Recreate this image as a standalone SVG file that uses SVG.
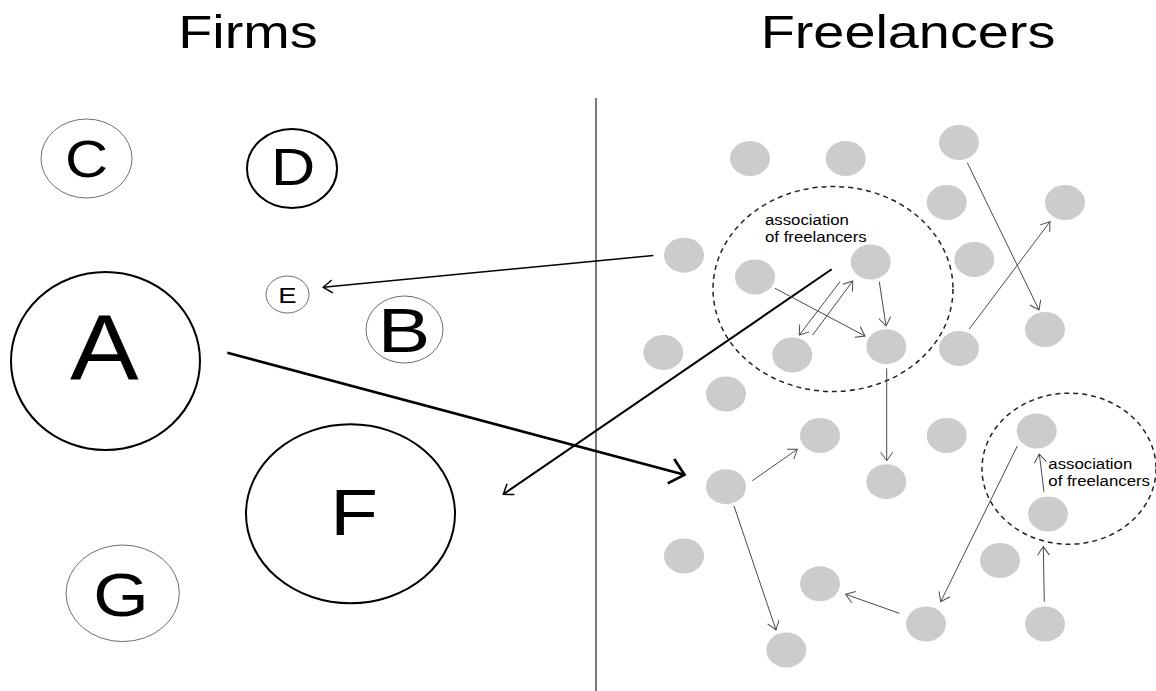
<svg xmlns="http://www.w3.org/2000/svg" width="1156" height="691" viewBox="0 0 1156 691">
  <style>
    text { font-family: "Liberation Sans", Arial, Helvetica, sans-serif; fill: #000; }
    .title { font-size: 46.5px; text-anchor: middle; }
    .firm-strong { fill: #fff; stroke: #000; stroke-width: 2; }
    .firm-light { fill: #fff; stroke: #6e6e6e; stroke-width: 1; }
    .letter { text-anchor: middle; }
    .freelancer { fill: #cccccc; stroke: none; }
    .assoc { fill: none; stroke: #222; stroke-width: 1.5; stroke-dasharray: 5 4; }
    .assoc-label { font-size: 15px; }
    .divider { stroke: #333; stroke-width: 1.3; }
    .link { fill: none; stroke: #4a4a4a; stroke-width: 1; marker-end: url(#head-thin); }
    .link-dark { fill: none; stroke: #000; stroke-width: 1.5; marker-end: url(#head-dark); }
    .link-bold { fill: none; stroke: #000; stroke-width: 2.7; marker-end: url(#head-bold); }
    .link-mid { fill: none; stroke: #000; stroke-width: 2; marker-end: url(#head-dark); }
  </style>
  <defs>
    <marker id="head-thin" markerUnits="userSpaceOnUse" markerWidth="20" markerHeight="20" refX="0" refY="0" orient="auto" overflow="visible">
      <path d="M-8.5,-6 L0,0 L-8.5,6" fill="none" stroke="#4a4a4a" stroke-width="1"/>
    </marker>
    <marker id="head-dark" markerUnits="userSpaceOnUse" markerWidth="20" markerHeight="20" refX="0" refY="0" orient="auto" overflow="visible">
      <path d="M-9,-6.5 L0,0 L-9,6.5" fill="none" stroke="#000" stroke-width="1.5"/>
    </marker>
    <marker id="head-bold" markerUnits="userSpaceOnUse" markerWidth="40" markerHeight="40" refX="0" refY="0" orient="auto" overflow="visible">
      <path d="M-14,-12.6 L0,0 L-14,12.6" fill="none" stroke="#000" stroke-width="2.7"/>
    </marker>
  </defs>

  <rect width="1156" height="691" fill="#fff"/>

  <!-- column headings -->
  <text class="title" transform="translate(248,48.3) scale(1.2,1)">Firms</text>
  <text class="title" transform="translate(908,48.3) scale(1.2,1)">Freelancers</text>

  <!-- divider between firms and freelancers -->
  <line class="divider" x1="596" y1="98" x2="596" y2="691"/>

  <!-- firms -->
  <g id="firm-C">
    <ellipse class="firm-light" cx="86.5" cy="158.5" rx="45.5" ry="39.5"/>
    <text class="letter" font-size="51" transform="translate(86.5,176.5) scale(1.17,1)">C</text>
  </g>
  <g id="firm-D">
    <ellipse class="firm-strong" cx="292" cy="168.5" rx="45" ry="39.5"/>
    <text class="letter" font-size="51" transform="translate(293,185) scale(1.2,1)">D</text>
  </g>
  <g id="firm-E">
    <ellipse class="firm-light" cx="287.5" cy="294.5" rx="21.5" ry="18.5"/>
    <text class="letter" font-size="22" transform="translate(287.5,302.7) scale(1.25,1)">E</text>
  </g>
  <g id="firm-B">
    <ellipse class="firm-light" cx="404.5" cy="329.5" rx="38.5" ry="33.5"/>
    <text class="letter" font-size="63" transform="translate(404,351.7) scale(1.25,1)">B</text>
  </g>
  <g id="firm-A">
    <ellipse class="firm-strong" cx="105.5" cy="361" rx="94.5" ry="89"/>
    <text class="letter" font-size="92" transform="translate(104.3,380) scale(1.12,1)">A</text>
  </g>
  <g id="firm-F">
    <ellipse class="firm-strong" cx="350.5" cy="513.8" rx="104.5" ry="89.5"/>
    <text class="letter" font-size="65" transform="translate(354,535) scale(1.2,1)">F</text>
  </g>
  <g id="firm-G">
    <ellipse class="firm-light" cx="122.7" cy="593.3" rx="56.7" ry="48.3"/>
    <text class="letter" font-size="61" transform="translate(121,615.5) scale(1.17,1)">G</text>
  </g>

  <!-- associations of freelancers -->
  <g id="association-1">
    <ellipse class="assoc" cx="833" cy="289" rx="120" ry="102.5"/>
    <text class="assoc-label" transform="translate(765,225) scale(1.12,1)">association</text>
    <text class="assoc-label" transform="translate(765,242.3) scale(1.12,1)">of freelancers</text>
  </g>
  <g id="association-2">
    <ellipse class="assoc" cx="1069" cy="468.7" rx="87" ry="75.5"/>
    <text class="assoc-label" transform="translate(1048.3,469) scale(1.12,1)">association</text>
    <text class="assoc-label" transform="translate(1048.3,486) scale(1.12,1)">of freelancers</text>
  </g>

  <!-- freelancers -->
  <g id="freelancers">
    <ellipse id="fl-01" class="freelancer" cx="750" cy="158.5" rx="20" ry="17.5"/>
    <ellipse id="fl-02" class="freelancer" cx="845.7" cy="158.5" rx="20" ry="17.5"/>
    <ellipse id="fl-03" class="freelancer" cx="959" cy="142.5" rx="20" ry="17.5"/>
    <ellipse id="fl-04" class="freelancer" cx="946.7" cy="202.5" rx="20" ry="17.5"/>
    <ellipse id="fl-05" class="freelancer" cx="1065" cy="202.5" rx="20" ry="17.5"/>
    <ellipse id="fl-06" class="freelancer" cx="684" cy="255.2" rx="20" ry="17.5"/>
    <ellipse id="fl-07" class="freelancer" cx="755" cy="277" rx="20" ry="17.5"/>
    <ellipse id="fl-08" class="freelancer" cx="870.7" cy="262" rx="20" ry="17.5"/>
    <ellipse id="fl-09" class="freelancer" cx="974.3" cy="259.5" rx="20" ry="17.5"/>
    <ellipse id="fl-10" class="freelancer" cx="1045" cy="329.5" rx="20" ry="17.5"/>
    <ellipse id="fl-11" class="freelancer" cx="663.3" cy="352.5" rx="20" ry="17.5"/>
    <ellipse id="fl-12" class="freelancer" cx="792.3" cy="355" rx="20" ry="17.5"/>
    <ellipse id="fl-13" class="freelancer" cx="886.3" cy="346.7" rx="20" ry="17.5"/>
    <ellipse id="fl-14" class="freelancer" cx="959" cy="348.5" rx="20" ry="17.5"/>
    <ellipse id="fl-15" class="freelancer" cx="726" cy="394" rx="20" ry="17.5"/>
    <ellipse id="fl-16" class="freelancer" cx="820" cy="435.5" rx="20" ry="17.5"/>
    <ellipse id="fl-17" class="freelancer" cx="946.7" cy="435.5" rx="20" ry="17.5"/>
    <ellipse id="fl-18" class="freelancer" cx="1036.7" cy="431" rx="20" ry="17.5"/>
    <ellipse id="fl-19" class="freelancer" cx="726" cy="486.7" rx="20" ry="17.5"/>
    <ellipse id="fl-20" class="freelancer" cx="886.3" cy="481.7" rx="20" ry="17.5"/>
    <ellipse id="fl-21" class="freelancer" cx="1048" cy="514" rx="20" ry="17.5"/>
    <ellipse id="fl-22" class="freelancer" cx="684" cy="556" rx="20" ry="17.5"/>
    <ellipse id="fl-23" class="freelancer" cx="1000" cy="560.5" rx="20" ry="17.5"/>
    <ellipse id="fl-24" class="freelancer" cx="820" cy="583.8" rx="20" ry="17.5"/>
    <ellipse id="fl-25" class="freelancer" cx="926" cy="624" rx="20" ry="17.5"/>
    <ellipse id="fl-26" class="freelancer" cx="1045" cy="624" rx="20" ry="17.5"/>
    <ellipse id="fl-27" class="freelancer" cx="786.3" cy="650" rx="20" ry="17.5"/>
  </g>

  <!-- connectors -->
  <g id="connectors">
    <line class="link-bold" x1="227.3" y1="352.7" x2="684.5" y2="474.8"/>
    <line class="link-mid" x1="831.7" y1="269.3" x2="503.3" y2="494.3"/>
    <line class="link-dark" x1="653.3" y1="255.5" x2="323.3" y2="287.3"/>

    <line class="link" x1="967.3" y1="162.7" x2="1039" y2="310"/>
    <line class="link" x1="969.3" y1="329" x2="1050" y2="221.7"/>
    <line class="link" x1="775" y1="288.3" x2="865" y2="336"/>
    <line class="link" x1="879.3" y1="281.7" x2="886" y2="326"/>
    <line class="link" x1="840" y1="281.7" x2="799.3" y2="335"/>
    <line class="link" x1="812.7" y1="335" x2="852.7" y2="281"/>
    <line class="link" x1="886.7" y1="368.3" x2="886.7" y2="460.7"/>
    <line class="link" x1="752.3" y1="480.7" x2="797.3" y2="449.3"/>
    <line class="link" x1="734" y1="506" x2="776" y2="630"/>
    <line class="link" x1="1017.3" y1="446" x2="940.7" y2="601.7"/>
    <line class="link" x1="899.3" y1="613.3" x2="845.7" y2="594.3"/>
    <line class="link" x1="1044" y1="491.7" x2="1039.3" y2="454"/>
    <line class="link" x1="1044.3" y1="601.7" x2="1043.3" y2="546.7"/>
  </g>
</svg>
